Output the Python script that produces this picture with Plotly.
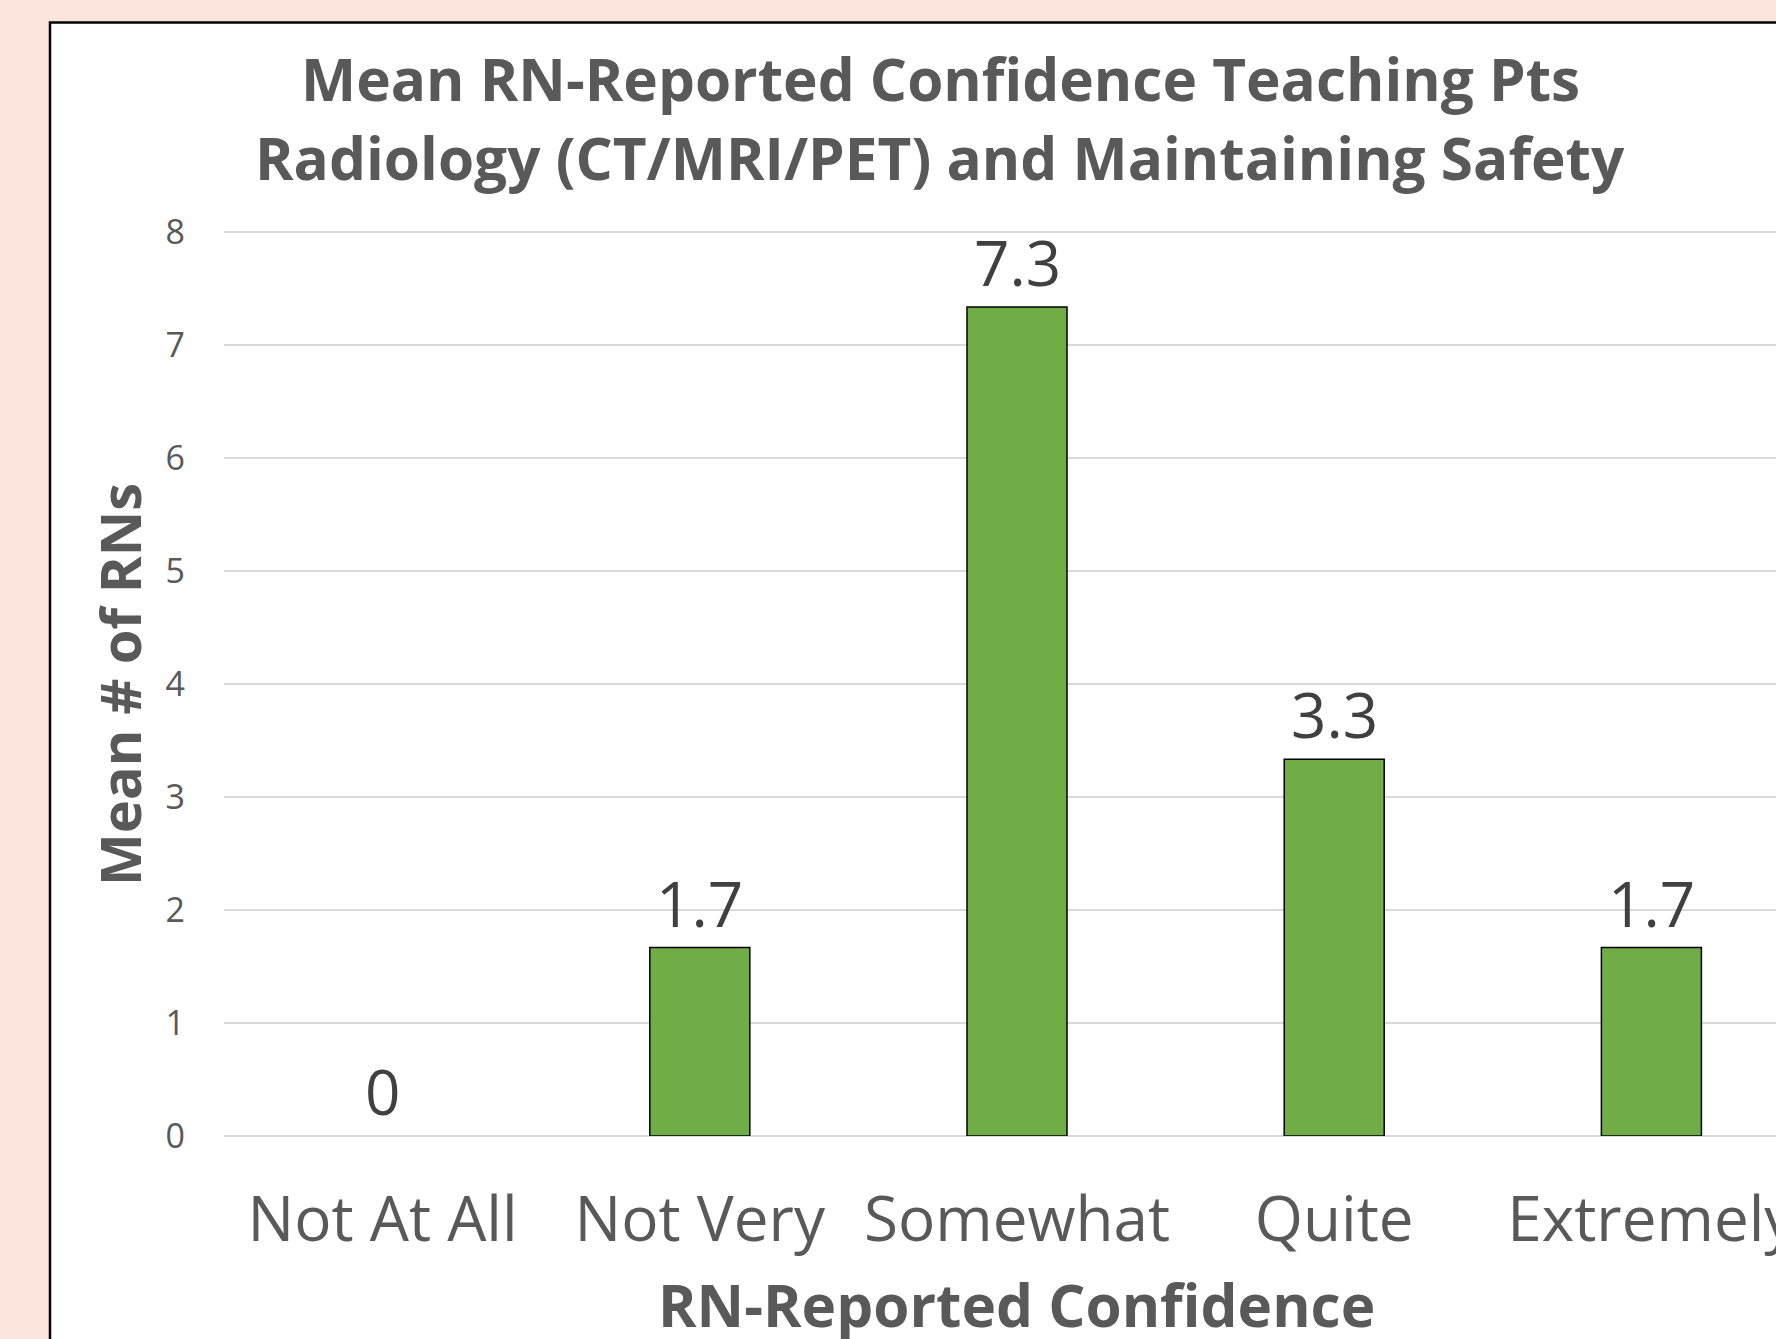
import plotly.graph_objects as go

# ---- data ----
categories = ["Not At All", "Not Very", "Somewhat", "Quite", "Extremely"]
mean_rns = [0, 1.667, 7.333, 3.333, 1.667]
y_ticks = [0, 1, 2, 3, 4, 5, 6, 7, 8]
title_lines = ["Mean RN-Reported Confidence Teaching Pts",
               "Radiology (CT/MRI/PET) and Maintaining Safety"]
x_title = "RN-Reported Confidence"
y_title = "Mean # of RNs"

W, H = 1776, 1339
UNIT = 112.95          # pixels per y unit
ZERO_Y = 1135.7        # pixel row of y = 0
Y_MAX = 8.05
L, R = 224, 0
T = ZERO_Y - Y_MAX * UNIT
B = H - ZERO_Y
PW, PH = W - L - R, H - T - B
CAT_PX = 317.2  # pixel width of one category slot

def px_x(x):
    return (x - L) / PW

def px_y(y):
    return (H - B - y) / PH

FONT = "Open Sans, sans-serif"
GRAY = "#595959"

labels = ["0" if v == 0 else f"{v:.1f}" for v in mean_rns]

fig = go.Figure()
fig.add_trace(go.Bar(
    x=categories, y=mean_rns,
    marker=dict(color="#70AD47",
                line=dict(color="#000000", width=[0 if v == 0 else 1.5 for v in mean_rns])),
    hoverinfo="skip",
))

# data labels
for c, v, t in zip(categories, mean_rns, labels):
    fig.add_annotation(x=c, y=v, xref="x", yref="y", text=t, showarrow=False,
                       yanchor="middle", yshift=45,
                       font=dict(family=FONT, size=62, color="#404040"))

# white chart area with black border (extends beyond right/bottom edges)
fig.add_shape(type="rect", xref="paper", yref="paper",
              x0=px_x(50), x1=px_x(1850), y0=px_y(1400), y1=px_y(23),
              fillcolor="white", line=dict(color="black", width=2.5), layer="below")

# title (two lines)
for line, yc in zip(title_lines, [79, 158]):
    fig.add_annotation(x=px_x(940), y=px_y(yc), xref="paper", yref="paper",
                       text="<b>" + line + "</b>",
                       showarrow=False, xanchor="center", yanchor="middle",
                       font=dict(family=FONT, size=58.5, color=GRAY))
# axis titles
fig.add_annotation(x=px_x(1017), y=px_y(1304), xref="paper", yref="paper",
                   text="<b>" + x_title + "</b>", showarrow=False,
                   xanchor="center", yanchor="middle",
                   font=dict(family=FONT, size=58.5, color=GRAY))
fig.add_annotation(x=px_x(119), y=px_y(685), xref="paper", yref="paper",
                   text="<b>" + y_title + "</b>", showarrow=False, textangle=-90,
                   xanchor="center", yanchor="middle",
                   font=dict(family=FONT, size=56, color=GRAY))

fig.update_layout(
    width=W, height=H,
    margin=dict(l=L, r=R, t=T, b=B, autoexpand=False),
    paper_bgcolor="#FDE4DD",
    plot_bgcolor="rgba(0,0,0,0)",
    showlegend=False,
    bargap=1 - 100 / CAT_PX,
    font=dict(family=FONT, color=GRAY),
)
fig.update_xaxes(
    range=[-0.5, -0.5 + PW / CAT_PX], showgrid=False, showline=False,
    ticks="", ticklabelstandoff=42, automargin=False,
    tickfont=dict(family=FONT, size=62, color=GRAY),
)
fig.update_yaxes(
    range=[0, Y_MAX], tickvals=y_ticks, showgrid=True, gridcolor="#D9D9D9", gridwidth=1.5,
    zeroline=True, zerolinecolor="#D9D9D9", zerolinewidth=1.5, showline=False,
    ticks="", ticklabelstandoff=38, automargin=False,
    tickfont=dict(family=FONT, size=34, color=GRAY),
)

fig.write_html("out.html", config={"displayModeBar": False},
               post_script="document.body.style.margin='0px';document.body.style.overflow='hidden';")
